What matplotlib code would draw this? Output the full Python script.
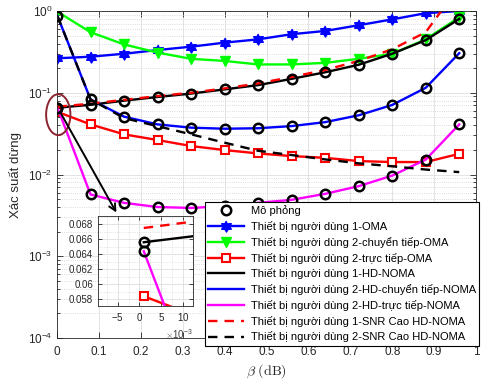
import matplotlib
matplotlib.use('Agg')
import matplotlib.pyplot as plt
from matplotlib.patches import Ellipse
from matplotlib.ticker import FuncFormatter, LogLocator, NullFormatter, MultipleLocator

plt.rcParams['font.family'] = ['Liberation Sans', 'DejaVu Sans']
plt.rcParams['mathtext.fontset'] = 'cm'

# data
beta = [0.001, 0.08, 0.16, 0.24, 0.32, 0.40, 0.48, 0.56, 0.64, 0.72, 0.80, 0.88, 0.96]

u1_oma = [0.264, 0.276, 0.30, 0.333, 0.366, 0.41, 0.45, 0.52, 0.57, 0.67, 0.79, 0.94, 1.0]
u2_relay_oma = [0.98, 0.55, 0.39, 0.31, 0.26, 0.245, 0.222, 0.222, 0.232, 0.26, 0.30, 0.45, 0.84]
u2_direct_oma = [0.0584, 0.041, 0.031, 0.0264, 0.0223, 0.0199, 0.0181, 0.0168, 0.016, 0.0146, 0.0142, 0.0142, 0.0179]
u1_noma = [0.0656, 0.0712, 0.080, 0.0888, 0.0977, 0.110, 0.124, 0.148, 0.178, 0.22, 0.30, 0.44, 0.80]
u2_relay_noma = [0.87, 0.083, 0.051, 0.041, 0.0374, 0.0363, 0.0368, 0.0391, 0.0437, 0.053, 0.0709, 0.115, 0.305]
u2_direct_noma = [0.0644, 0.0057, 0.0045, 0.0040, 0.0039, 0.0041, 0.0045, 0.0049, 0.0058, 0.0072, 0.0097, 0.0152, 0.041]
# theory curve for user 2 direct, with the extra point visible in the zoomed inset
beta_direct = [0.001, 0.0058] + beta[1:]
u2_direct_theory = [0.0644, 0.0571] + u2_direct_noma[1:]
u1_high_snr = [0.0675, 0.0735, 0.082, 0.091, 0.100, 0.113, 0.130, 0.156, 0.19, 0.245, 0.34, 0.55, 2.0]
u2_high_snr = [0.87, 0.083, 0.049, 0.039, 0.031, 0.0245, 0.0195, 0.0173, 0.0153, 0.0137, 0.0126, 0.0115, 0.0107]

labels = ['Mô phỏng',
          'Thiết bị người dùng 1-OMA',
          'Thiết bị người dùng 2-chuyển tiếp-OMA',
          'Thiết bị người dùng 2-trực tiếp-OMA',
          'Thiết bị người dùng 1-HD-NOMA',
          'Thiết bị người dùng 2-HD-chuyển tiếp-NOMA',
          'Thiết bị người dùng 2-HD-trực tiếp-NOMA',
          'Thiết bị người dùng 1-SNR Cao HD-NOMA',
          'Thiết bị người dùng 2-SNR Cao HD-NOMA']

# six pointed star like MATLAB's hexagram
import math
hexagram = []
for k in range(12):
    r = 1.0 if k % 2 == 0 else 0.58
    a = math.radians(90 + 30 * k)
    hexagram.append((r * math.cos(a), r * math.sin(a)))

LW = 1.7


def draw(ax):
    hs = []
    hs.append(ax.plot(beta, u1_oma, color='blue', lw=LW, marker=hexagram, ms=8)[0])
    hs.append(ax.plot(beta, u2_relay_oma, color=(0, 1, 0), lw=LW, marker='v', ms=7.5)[0])
    hs.append(ax.plot(beta, u2_direct_oma, color='red', lw=LW, marker='s', ms=5.5,
                      mfc='white', mew=1.5)[0])
    hs.append(ax.plot(beta, u1_noma, color='black', lw=LW)[0])
    hs.append(ax.plot(beta, u2_relay_noma, color='blue', lw=LW)[0])
    hs.append(ax.plot(beta_direct, u2_direct_theory, color='magenta', lw=LW)[0])
    hs.append(ax.plot(beta, u1_high_snr, color='red', lw=LW, ls=(0, (4, 3)))[0])
    hs.append(ax.plot(beta, u2_high_snr, color='black', lw=LW, ls=(0, (4, 3)))[0])
    sim = None
    for vals in (u1_noma, u2_relay_noma, u2_direct_noma):
        sim = ax.plot(beta, vals, ls='none', marker='o', ms=6.8, mfc='none',
                      mec='black', mew=1.8, zorder=5)[0]
    return [sim] + hs


fig = plt.figure(figsize=(4.84, 3.82), dpi=100)
ax = fig.add_axes([57 / 484, 44 / 382, 419 / 484, 327 / 382])
handles = draw(ax)

ax.set_yscale('log')
ax.set_xlim(0, 1)
ax.set_ylim(1e-4, 1)
ax.set_xticks([i / 10 for i in range(11)])
ax.xaxis.set_major_formatter(FuncFormatter(lambda v, p: '%g' % v))
ax.yaxis.set_minor_locator(LogLocator(base=10, subs=range(2, 10)))
ax.yaxis.set_minor_formatter(NullFormatter())
ax.tick_params(which='both', direction='in', top=True, right=True, colors='#262626',
               labelsize=8.5, width=0.6)
ax.tick_params(which='major', length=4)
ax.tick_params(which='minor', length=2)
ax.tick_params(axis='x', pad=6)
for s in ax.spines.values():
    s.set_color('#262626')
    s.set_linewidth(0.6)
ax.grid(True, which='major', color='#dedede', lw=0.6)
ax.grid(True, which='minor', axis='y', color='#d0d0d0', lw=0.6, ls=':')
ax.set_axisbelow(True)
ax.set_ylabel('Xác suất dừng', fontsize=9.5, color='#262626', labelpad=4)
ax.set_xlabel(r'$\beta\ \mathrm{(dB)}$', fontsize=10, color='#262626', labelpad=3)

# highlight of the starting point and arrow to the inset
ell = Ellipse((0.003, 0.683), 0.058, 0.125, transform=ax.transAxes, fill=False,
              ec='#8c2330', lw=1.4, clip_on=False, zorder=6)
ax.add_patch(ell)
ax.annotate('', xy=(0.145, 0.0032), xytext=(0.006, 0.06),
            arrowprops=dict(arrowstyle='->', color='black', lw=1.4, mutation_scale=12), zorder=6)

leg = ax.legend(handles, labels, loc='upper left', bbox_to_anchor=(205 / 484, 1 - 202 / 382),
                bbox_transform=fig.transFigure, fontsize=8, frameon=True, fancybox=False,
                edgecolor='black', framealpha=1, borderpad=0.3, labelspacing=0.43,
                handlelength=3.2, handletextpad=0.6, borderaxespad=0)
leg.get_frame().set_linewidth(0.8)
leg.set_zorder(10)

# zoomed inset around beta = 0
ax_in = fig.add_axes([98 / 484, 76 / 382, 95 / 484, 90 / 382])
draw(ax_in)
ax_in.set_xlim(-0.0095, 0.0123)
ax_in.set_ylim(0.0571, 0.0691)
ax_in.set_xticks([-0.005, 0, 0.005, 0.01])
ax_in.set_yticks([0.058, 0.06, 0.062, 0.064, 0.066, 0.068])
ax_in.ticklabel_format(axis='x', style='sci', scilimits=(-3, -3), useMathText=True)
ax_in.yaxis.set_major_formatter(FuncFormatter(lambda v, p: '%g' % round(v, 4)))
ax_in.xaxis.set_minor_locator(MultipleLocator(0.0025))
ax_in.yaxis.set_minor_locator(MultipleLocator(0.001))
ax_in.tick_params(which='both', direction='in', top=True, right=True, colors='#262626',
                  labelsize=7, width=0.6)
ax_in.tick_params(which='major', length=3)
ax_in.tick_params(which='minor', length=0)
ax_in.xaxis.get_offset_text().set_fontsize(7)
ax_in.xaxis.get_offset_text().set_color('#404040')
for s in ax_in.spines.values():
    s.set_color('#262626')
    s.set_linewidth(0.6)
ax_in.grid(True, which='major', color='#dedede', lw=0.6)
ax_in.grid(True, which='minor', color='#d0d0d0', lw=0.5, ls=':')
ax_in.set_axisbelow(True)

fig.savefig('out.png', dpi=100)
